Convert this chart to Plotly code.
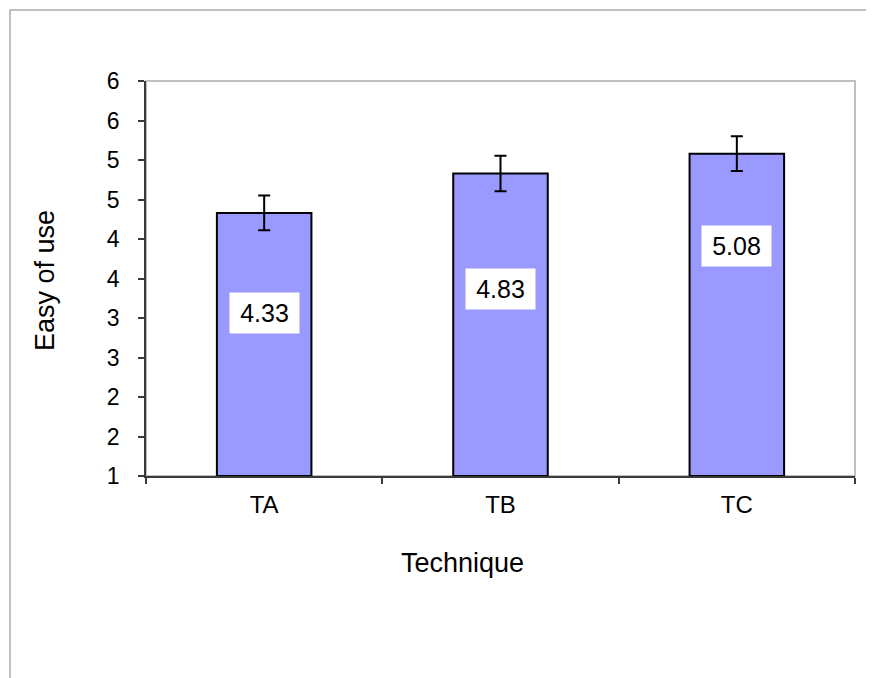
import plotly.graph_objects as go

# ---- data ----
categories = ["TA", "TB", "TC"]
means = [4.33, 4.83, 5.08]
errors = [0.22, 0.225, 0.22]
y_tick_values = [1.0, 1.5, 2.0, 2.5, 3.0, 3.5, 4.0, 4.5, 5.0, 5.5, 6.0]
y_tick_labels = ["1", "2", "2", "3", "3", "4", "4", "5", "5", "6", "6"]
x_title = "Technique"
y_title = "Easy of use"

# label box centres (axis units)
label_y = [3.06, 3.37, 3.91]

FONT = "Liberation Sans, Arial, sans-serif"
AXIS = "#3a3a3a"
OFF = 8  # page body margin
FIG_W, FIG_H = 874 - OFF, 678 - OFF

# plot area in page pixels
L, R, T, B = 146, 855, 81, 476
W, H = R - L, B - T
def px(x): return (x - L) / W
def py(y): return (B - y) / H

fig = go.Figure()
fig.add_trace(go.Bar(
    x=categories, y=[m - 1 for m in means], base=1,
    width=0.4,
    marker=dict(color="#9999FF", line=dict(color="black", width=2)),
    error_y=dict(type="data", array=errors, color="black", thickness=2, width=6),
    hoverinfo="skip",
))

annotations = []
for c, m, ly in zip(categories, means, label_y):
    annotations.append(dict(
        x=c, y=ly, xref="x", yref="y", text=f"{m:.2f}", showarrow=False,
        bgcolor="white", width=67, height=38, align="center", valign="middle",
        font=dict(family=FONT, size=25, color="black"),
    ))

annotations.append(dict(
    x=px(45), y=py(281), xref="paper", yref="paper", text=y_title, textangle=-90,
    showarrow=False, xanchor="center", yanchor="middle",
    font=dict(family=FONT, size=27, color="black")))
annotations.append(dict(
    x=px(462), y=py(563), xref="paper", yref="paper", text=x_title,
    showarrow=False, xanchor="center", yanchor="middle",
    font=dict(family=FONT, size=27, color="black")))

frame = dict(color="#C0C0C0", width=2)
shapes = [
    # outer chart frame: top and left edges (right/bottom run off the picture)
    dict(type="line", xref="paper", yref="paper", x0=px(9), y0=py(10), x1=px(900), y1=py(10),
         line=frame, layer="below"),
    dict(type="line", xref="paper", yref="paper", x0=px(10), y0=py(9), x1=px(10), y1=py(720),
         line=frame, layer="below"),
    # plot area border
    dict(type="rect", xref="paper", yref="paper", x0=0, y0=0, x1=1, y1=1,
         line=dict(color="#C0C0C0", width=2), fillcolor="rgba(0,0,0,0)", layer="below"),
]

fig.update_layout(
    width=FIG_W, height=FIG_H,
    margin=dict(l=L - OFF, r=FIG_W - (R - OFF), t=T - OFF, b=FIG_H - (B - OFF), pad=0),
    paper_bgcolor="white", plot_bgcolor="white",
    showlegend=False,
    annotations=annotations, shapes=shapes,
    font=dict(family=FONT, color="black"),
)
fig.update_xaxes(
    type="category", range=[-0.5, 2.5],
    showline=True, linecolor=AXIS, linewidth=1.5,
    ticks="outside", tickson="boundaries", ticklen=6, tickcolor=AXIS, tickwidth=1.5,
    tickfont=dict(family=FONT, size=24, color="black"), ticklabelstandoff=6,
    showgrid=False, zeroline=False,
)
fig.update_yaxes(
    range=[1, 6], tickvals=y_tick_values, ticktext=y_tick_labels,
    showline=True, linecolor=AXIS, linewidth=1.5,
    ticks="outside", ticklen=6, tickcolor=AXIS, tickwidth=1.5,
    tickfont=dict(family=FONT, size=23, color="black"), ticklabelstandoff=14,
    showgrid=False, zeroline=False,
)

fig.write_html("out.html")
